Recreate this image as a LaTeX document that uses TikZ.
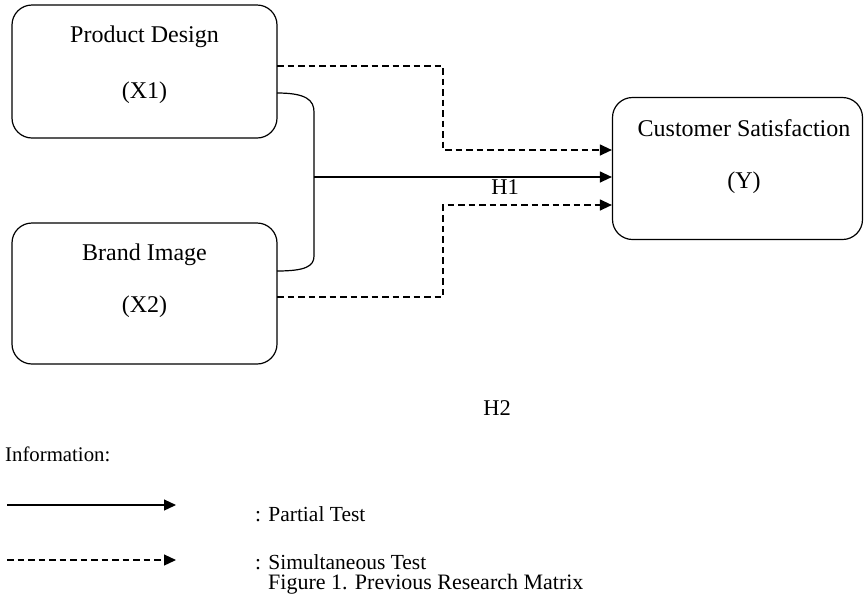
\documentclass[tikz,border=0pt]{standalone}
\usepackage{fontspec}
\setmainfont{Liberation Serif}
\usetikzlibrary{arrows.meta}
\begin{document}
\begin{tikzpicture}[x=1pt,y=-1pt,
  box/.style={draw,line width=1.2pt,rounded corners=20pt,minimum width=265pt,minimum height=133pt,inner sep=0pt},
  boxtext/.style={font=\fontsize{24}{28}\selectfont,inner sep=0pt},
  htext/.style={font=\fontsize{22.5}{26}\selectfont,inner sep=0pt},
  legtext/.style={font=\fontsize{21.5}{25}\selectfont,inner sep=0pt,anchor=west},
  conn/.style={line width=1.2pt},
  dashline/.style={line width=1.2pt,dash pattern=on 6.5pt off 4pt},
  tip/.style={-{Triangle[length=12pt,width=11pt]}}]
\useasboundingbox (0,0) rectangle (864,598);
% boxes
\node[box] (X1) at (144.5,71.5) {};
\node[box,minimum height=141pt] (X2) at (144.5,293.5) {};
\node[box,minimum width=250pt,minimum height=142pt] (Y) at (737.5,168.5) {};
\node[boxtext] (t1) at (144.5,37) {Product Design};
\node[boxtext] (t2) at (144.5,93) {(X1)};
\node[boxtext] (t3) at (144.5,255) {Brand Image};
\node[boxtext] (t4) at (144.5,307) {(X2)};
\node[boxtext] (t5) at (744,128) {Customer Satisfaction};
\node[boxtext] (t6) at (744,183) {(Y)};
% coordinates
\coordinate (b1) at (277,93);
\coordinate (b2) at (277,271);
\coordinate (bm) at (314,177);
\coordinate (d1) at (277,66);
\coordinate (d2) at (277,297);
% brace
\draw[conn] (b1) .. controls (306,93) and (314,100) .. (314,112) -- (314,256) .. controls (314,266) and (306,271) .. (b2);
\draw[conn,tip] (bm) -- (Y.west |- bm);
% dashed
\draw[dashline,tip] (d1) -- (443,66) -- (443,150) -- (Y.west |- 0,150);
\draw[dashline,tip] (d2) -- (443,297) -- (443,205) -- (Y.west |- 0,205);
% labels
\node[htext] (h1) at (505,187) {H1};
\node[htext] (h2) at (497,408) {H2};
% legend
\node[legtext,font=\fontsize{20.8}{24}\selectfont] (info) at (5,454) {Information:};
\coordinate (l1a) at (7,505);
\coordinate (l1b) at (176,505);
\coordinate (l2a) at (7,560);
\coordinate (l2b) at (176,560);
\draw[conn,tip] (l1a) -- (l1b);
\draw[dashline,tip] (l2a) -- (l2b);
\node[legtext] (p1) at (255,514) {: Partial Test};
\node[legtext] (p2) at (255,562) {: Simultaneous Test};
\node[legtext,font=\fontsize{22}{26}\selectfont] (cap) at (268,584) {Figure 1. Previous Research Matrix};
\end{tikzpicture}
\end{document}
